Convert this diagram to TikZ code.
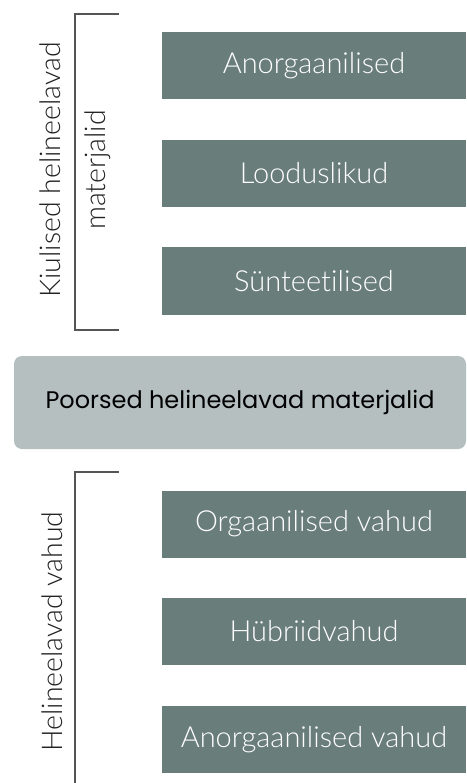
\documentclass[tikz,border=0pt]{standalone}
\usepackage{fontspec}
\setmainfont{Lato}[UprightFont=* Light,Ligatures=NoCommon]
\newfontfamily\roundfont{Poppins}
\usetikzlibrary{positioning}
\definecolor{slate}{HTML}{697D7A}
\definecolor{mist}{HTML}{B5BFC0}
\definecolor{ink}{HTML}{222222}
\definecolor{bracketgray}{HTML}{555555}
\tikzset{
  kind/.style={fill=slate,text=white,minimum width=304pt,minimum height=67pt,inner sep=0pt,font=\fontsize{29}{32}\selectfont},
  grouplabel/.style={rotate=90,align=center,text=ink,font=\fontsize{28.5}{45}\selectfont},
  brace/.style={draw=bracketgray,line width=2pt}
}

\begin{document}
\begin{tikzpicture}[x=1pt,y=-1pt]
  \useasboundingbox (0,0) rectangle (466,783);
  % kiulised
  \draw[brace] (119,14)--(75,14)--(75,330)--(119,330);
  \node[grouplabel] (kiud) at (75,170){Kiulised helineelavad\\materjalid};
  \node[kind] (anorg) at (314,65.5){Anorgaanilised};
  \node[kind] (lood) at (314,173.5){Looduslikud};
  \node[kind] (synt) at (314,281){Sünteetilised};
  % keskmine
  \node[fill=mist,rounded corners=8pt,minimum width=452pt,minimum height=93pt,inner sep=0pt,
        text=black,font=\roundfont\fontsize{24}{30}\selectfont] (poorsed) at (240,402.5){Poorsed helineelavad materjalid};
  % vahud
  \draw[brace] (119,472)--(75,472)--(75,790);
  \node[grouplabel] (vahud) at (52,631.5){Helineelavad vahud};
  \node[kind] (orgv) at (314,524){Orgaanilised vahud};
  \node[kind] (hyb) at (314,631.5){Hübriidvahud};
  \node[kind] (anorgv) at (314,739.5){Anorgaanilised vahud};
\end{tikzpicture}
\end{document}
